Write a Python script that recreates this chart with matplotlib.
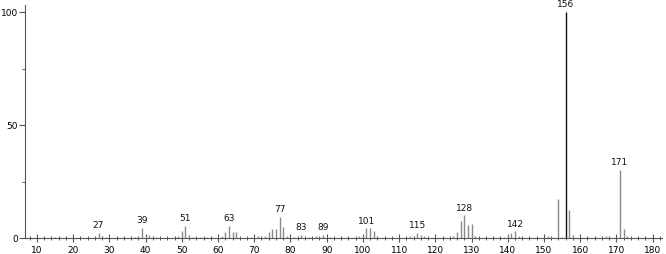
import matplotlib
matplotlib.use("Agg")
import matplotlib.pyplot as plt
from matplotlib.ticker import MultipleLocator

mz = [15, 26, 27, 28, 29, 37, 38, 39, 40, 41, 43, 49, 50, 51, 52, 53, 55, 57,
      61, 62, 63, 64, 65, 66, 69, 71, 73, 74, 75, 76, 77, 78, 79, 81, 83, 85,
      87, 88, 89, 91, 98, 99, 100, 101, 102, 103, 104, 113, 114, 115, 116, 117,
      125, 126, 127, 128, 129, 130, 131, 139, 140, 141, 142, 143, 151, 152,
      154, 155, 156, 157, 158, 166, 167, 168, 171, 172, 173]
intensity = [0.6, 0.8, 2.4, 0.7, 0.6, 0.6, 1.0, 4.4, 0.8, 1.5, 0.6, 0.7, 3.2, 5.4, 1.5, 0.6, 0.6, 0.6,
             0.8, 2.5, 5.4, 2.5, 2.8, 0.6, 0.6, 0.8, 0.8, 2.6, 4.1, 4.1, 9.3, 4.7, 0.9, 0.6, 1.5, 0.6,
             0.8, 1.0, 1.5, 0.6, 0.6, 0.8, 1.0, 4.3, 4.3, 2.9, 0.7, 0.7, 1.0, 2.2, 1.2, 0.8,
             0.8, 2.8, 7.4, 10.0, 5.9, 6.3, 0.7, 0.6, 1.2, 2.0, 2.9, 0.8, 0.8, 0.7,
             17.1, 0.6, 100.0, 12.4, 1.3, 0.7, 1.0, 1.0, 30.3, 4.1, 0.7]
labeled = [27, 39, 51, 63, 77, 83, 89, 101, 115, 128, 142, 156, 171]

xticks = list(range(10, 181, 10))
yticks = [0, 50, 100]

fig = plt.figure(figsize=(6.66, 2.54), dpi=100)
ax = fig.add_axes([25/666, 16/254, (662-25)/666, (238-5)/254])

colors = ['#111111' if m == 156 else '#8a8a8a' for m in mz]
ax.vlines(mz, 0, intensity, colors=colors, linewidth=1.0)

for m, v in zip(mz, intensity):
    if m in labeled:
        ax.text(m, v + 1.2, str(m), ha='center', va='bottom', fontsize=6.5,
                color='#111111')

ax.set_xlim(6.7, 182.6)
ax.set_ylim(0, 103.1)
ax.set_xticks(xticks)
ax.set_yticks(yticks)
ax.xaxis.set_minor_locator(MultipleLocator(2))
ax.yaxis.set_minor_locator(MultipleLocator(25))
for s in ['top', 'right']:
    ax.spines[s].set_visible(False)
for s in ['left', 'bottom']:
    ax.spines[s].set_color('#555555')
    ax.spines[s].set_linewidth(0.8)
ax.tick_params(axis='x', which='major', direction='inout', length=6, width=0.8,
               color='#555555', labelsize=6.5, pad=2.5)
ax.tick_params(axis='x', which='minor', direction='inout', length=3, width=0.7,
               color='#555555')
ax.tick_params(axis='y', which='major', direction='out', length=4, width=0.8,
               color='#555555', labelsize=6.5, pad=1)
ax.tick_params(axis='y', which='minor', direction='out', length=2, width=0.7,
               color='#555555')
fig.savefig('out.png', dpi=100)
